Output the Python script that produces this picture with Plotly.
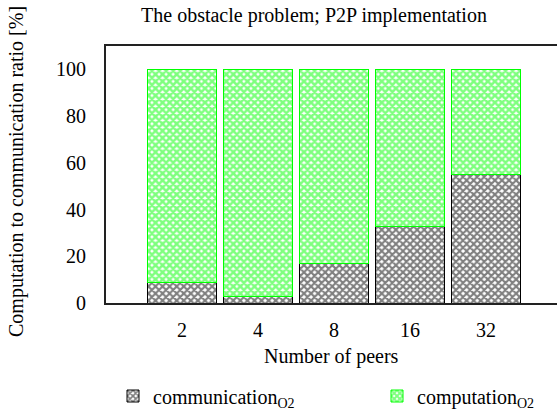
import plotly.graph_objects as go

# data
peers = ["2", "4", "8", "16", "32"]
communication = [8.7, 2.9, 17.0, 32.7, 54.8]
computation = [91.3, 97.1, 83.0, 67.3, 45.2]
y_ticks = [0, 20, 40, 60, 80, 100]

FONT = "Liberation Serif, Times New Roman, Times, serif"
SIZE = 20

fig = go.Figure()
fig.add_trace(go.Bar(
    x=peers, y=communication, name="communication<sub>O2</sub>",
    legend="legend", showlegend=True,
    marker=dict(color="white",
                pattern=dict(shape="x", fgcolor="black", bgcolor="white",
                             size=5, solidity=0.65),
                line=dict(color="black", width=1)),
))
fig.add_trace(go.Bar(
    x=peers, y=computation, name="computation<sub>O2</sub>",
    legend="legend2", showlegend=True,
    marker=dict(color="white",
                pattern=dict(shape="x", fgcolor="#00ff00", bgcolor="white",
                             size=5, solidity=0.75),
                line=dict(color="#00ff00", width=1)),
))

legend_style = dict(orientation="h", xref="container", xanchor="left",
                    yref="container", y=1 - 396 / 419, yanchor="middle",
                    font=dict(family=FONT, size=SIZE, color="black"))

fig.update_layout(
    width=557, height=419,
    showlegend=True,
    barmode="stack", bargap=0.09,
    plot_bgcolor="white", paper_bgcolor="white",
    margin=dict(l=106, r=0, t=46, b=116, autoexpand=False),
    font=dict(family=FONT, size=SIZE, color="black"),
    title=dict(text="The obstacle problem; P2P implementation",
               x=314 / 557, xref="container", xanchor="center",
               y=1 - 15 / 419, yref="container", yanchor="middle",
               font=dict(family=FONT, size=SIZE, color="black")),
    legend=dict(x=(153 - 40) / 557, **legend_style),
    legend2=dict(x=(417 - 40) / 557, **legend_style),
)
fig.update_xaxes(
    type="category", range=[-1, 4.934],
    showline=True, linecolor="#222222", linewidth=2, mirror=True,
    showgrid=False, ticks="", ticklabelstandoff=8,
)
fig.update_yaxes(
    range=[0, 110], tickvals=y_ticks,
    showline=True, linecolor="#222222", linewidth=2,
    showgrid=False, zeroline=False, ticks="", ticklabelstandoff=14,
)

fig.add_annotation(text="Number of peers", x=0.5, y=(303 - 356) / 257,
                   xref="paper", yref="paper", showarrow=False,
                   xanchor="center", yanchor="middle", font=dict(size=SIZE))
fig.add_annotation(text="Computation to communication ratio [%]",
                   x=(16 - 106) / 451, y=(303 - 172) / 257,
                   xref="paper", yref="paper", showarrow=False, textangle=-90,
                   xanchor="center", yanchor="middle", font=dict(size=SIZE))

# drop the browser's default 8px body margin so the figure sits at (0, 0)
fig.write_html("out.html", config={"displayModeBar": False},
               post_script="document.body.style.margin='0px';")
